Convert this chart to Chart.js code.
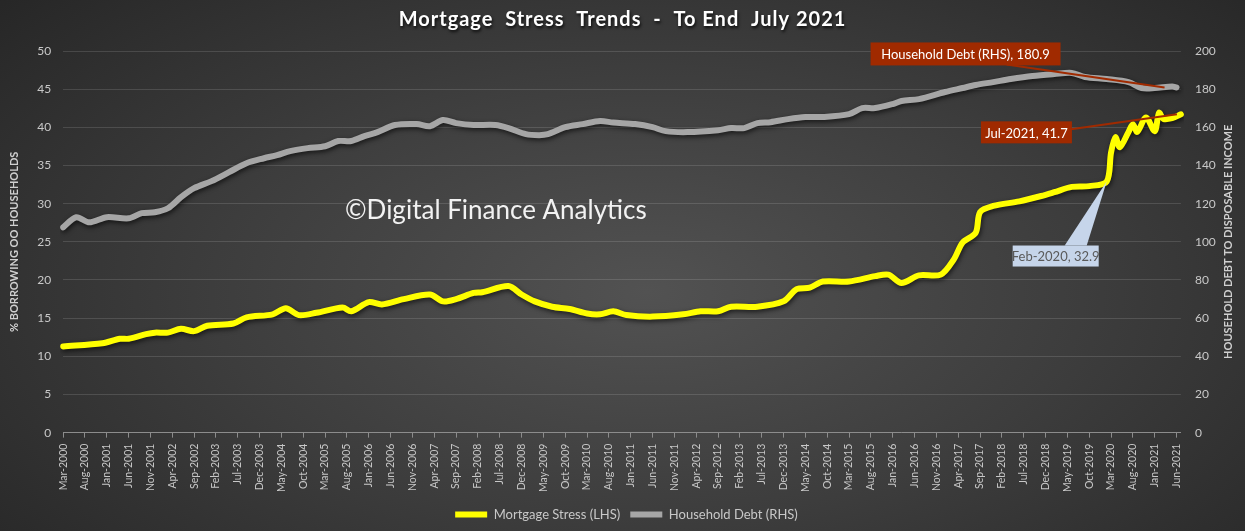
<!DOCTYPE html>
<html>
<head>
<meta charset="utf-8">
<script src="https://cdn.jsdelivr.net/npm/chart.js@4.4.0/dist/chart.umd.min.js"></script>
<style>
html, body { margin: 0; padding: 0; }
body {
    width: 1245px; height: 531px; overflow: hidden;
    background: radial-gradient(ellipse 70% 85% at 52% 55%, #525252 0%, #3d3d3d 50%, #262626 100%);
}
#wrap { position: relative; width: 1245px; height: 531px; }
</style>
</head>
<body>
<div id="wrap"><canvas id="stressChart"></canvas></div>
<script>
var monthNames = ['Jan', 'Feb', 'Mar', 'Apr', 'May', 'Jun', 'Jul', 'Aug', 'Sep', 'Oct', 'Nov', 'Dec'];
var months = [];
for (var yr = 2000; yr <= 2021; yr++) {
    for (var mo = 0; mo < 12; mo++) {
        if ((yr === 2000 && mo < 2) || (yr === 2021 && mo > 6)) continue;
        months.push(monthNames[mo] + '-' + yr);
    }
}

// Mortgage stress, % of owner occupied borrowing households (LHS)
var stressMonths = ['Mar-2000', 'Dec-2000', 'Apr-2001', 'Jun-2001', 'Oct-2001', 'Dec-2001', 'Mar-2002', 'Jun-2002',
    'Sep-2002', 'Dec-2002', 'Jun-2003', 'Sep-2003', 'Mar-2004', 'Jun-2004', 'Sep-2004', 'Jan-2005', 'Jul-2005',
    'Sep-2005', 'Jan-2006', 'Apr-2006', 'Sep-2006', 'Mar-2007', 'Jun-2007', 'Sep-2007', 'Jan-2008', 'Mar-2008',
    'Sep-2008', 'Dec-2008', 'Mar-2009', 'Jul-2009', 'Nov-2009', 'Mar-2010', 'Jun-2010', 'Sep-2010', 'Dec-2010',
    'Jun-2011', 'Jan-2012', 'May-2012', 'Sep-2012', 'Dec-2012', 'Jun-2013', 'Dec-2013', 'Mar-2014', 'Jun-2014',
    'Sep-2014', 'Mar-2015', 'Sep-2015', 'Dec-2015', 'Mar-2016', 'Jul-2016', 'Dec-2016', 'Mar-2017', 'May-2017',
    'Aug-2017', 'Sep-2017', 'Dec-2017', 'Jun-2018', 'Nov-2018', 'Feb-2019', 'Jun-2019', 'Oct-2019', 'Feb-2020',
    'Mar-2020', 'Apr-2020', 'May-2020', 'Jul-2020', 'Aug-2020', 'Sep-2020', 'Nov-2020', 'Jan-2021', 'Feb-2021',
    'Mar-2021', 'May-2021', 'Jul-2021'];
var stressValues = [11.3, 11.7, 12.3, 12.3, 12.9, 13.1, 13.1, 13.6,
    13.3, 14.0, 14.3, 15.1, 15.5, 16.3, 15.4, 15.7, 16.4,
    15.9, 17.1, 16.8, 17.5, 18.1, 17.2, 17.5, 18.3, 18.4,
    19.2, 18.1, 17.2, 16.5, 16.2, 15.6, 15.5, 15.9, 15.4,
    15.2, 15.5, 15.9, 15.9, 16.5, 16.5, 17.2, 18.8, 19.0,
    19.8, 19.8, 20.5, 20.7, 19.6, 20.6, 20.7, 22.7, 24.9,
    26.2, 28.9, 29.7, 30.3, 31.0, 31.5, 32.2, 32.3, 32.9,
    36.7, 38.7, 37.4, 39.4, 40.4, 39.4, 41.3, 39.5, 41.9,
    41.1, 41.2, 41.7];

// Household debt to disposable income (RHS)
var debtMonths = ['Mar-2000', 'Jun-2000', 'Sep-2000', 'Jan-2001', 'Jun-2001', 'Sep-2001', 'Dec-2001', 'Mar-2002',
    'Jun-2002', 'Sep-2002', 'Jan-2003', 'May-2003', 'Sep-2003', 'Jan-2004', 'Apr-2004', 'Jul-2004', 'Nov-2004',
    'Mar-2005', 'Jun-2005', 'Sep-2005', 'Dec-2005', 'Mar-2006', 'Jul-2006', 'Dec-2006', 'Mar-2007', 'Jun-2007',
    'Sep-2007', 'Jan-2008', 'Jun-2008', 'Sep-2008', 'Jan-2009', 'Apr-2009', 'Jun-2009', 'Oct-2009', 'Feb-2010',
    'Jun-2010', 'Sep-2010', 'Feb-2011', 'Jun-2011', 'Sep-2011', 'Feb-2012', 'Sep-2012', 'Dec-2012', 'Mar-2013',
    'Jun-2013', 'Sep-2013', 'Jan-2014', 'May-2014', 'Sep-2014', 'Mar-2015', 'Jun-2015', 'Sep-2015', 'Jan-2016',
    'Mar-2016', 'Jul-2016', 'Jan-2017', 'May-2017', 'Aug-2017', 'Dec-2017', 'Apr-2018', 'Sep-2018', 'Feb-2019',
    'Jun-2019', 'Sep-2019', 'Feb-2020', 'Jul-2020', 'Oct-2020', 'Jan-2021', 'May-2021', 'Jun-2021'];
var debtValues = [107.6, 112.9, 110.2, 112.9, 112.3, 115.0, 115.5, 117.6,
    123.4, 128.1, 131.8, 136.5, 141.2, 143.8, 145.4, 147.5, 149.1,
    150.1, 152.8, 152.8, 155.4, 157.5, 161.2, 161.7, 160.6, 163.8,
    162.2, 161.2, 161.2, 159.6, 156.4, 155.9, 156.4, 160.1, 161.7,
    163.3, 162.5, 161.7, 160.1, 158.0, 157.5, 158.5, 159.6, 159.6,
    162.2, 162.7, 164.3, 165.4, 165.4, 166.9, 170.1, 170.1, 172.2,
    173.8, 174.8, 178.5, 180.6, 182.2, 183.7, 185.3, 186.9, 187.9,
    188.5, 186.4, 185.3, 183.7, 180.6, 180.6, 181.4, 180.9];

function pairs(ms, vs) {
    return ms.map(function(m, i) { return { x: m, y: vs[i] }; });
}

var textColor = '#c8c8c8';
var fontFace = 'Lato, "Open Sans", sans-serif';

var shadowPlugin = {
    id: 'lineShadow',
    beforeDatasetDraw: function(chart) {
        var ctx = chart.ctx;
        ctx.save();
        ctx.shadowColor = 'rgba(0,0,0,0.65)';
        ctx.shadowBlur = 5;
        ctx.shadowOffsetX = 1;
        ctx.shadowOffsetY = 2;
    },
    afterDatasetDraw: function(chart) {
        chart.ctx.restore();
    }
};

function drawBox(ctx, x, y, w, h, fill, text, color) {
    ctx.fillStyle = fill;
    ctx.fillRect(x, y, w, h);
    ctx.fillStyle = color;
    ctx.font = '13px ' + fontFace;
    ctx.textAlign = 'center';
    ctx.textBaseline = 'middle';
    ctx.fillText(text, x + w / 2, y + h / 2 + 1);
}

var decorPlugin = {
    id: 'decor',
    afterDraw: function(chart) {
        var ctx = chart.ctx;
        var xs = chart.scales.x, yl = chart.scales.y, yr = chart.scales.y1;
        var area = chart.chartArea;
        ctx.save();

        // title
        ctx.font = 'bold 20px ' + fontFace;
        ctx.letterSpacing = '1px';
        ctx.textAlign = 'center';
        ctx.textBaseline = 'middle';
        ctx.shadowColor = 'rgba(0,0,0,0.8)';
        ctx.shadowBlur = 3;
        ctx.shadowOffsetX = 1;
        ctx.shadowOffsetY = 2;
        ctx.fillStyle = '#ffffff';
        ctx.fillText('Mortgage  Stress  Trends  -  To End  July 2021', chart.width / 2, 20);
        ctx.shadowColor = 'transparent';
        ctx.letterSpacing = '0px';

        // watermark
        ctx.font = '26px ' + fontFace;
        ctx.textAlign = 'left';
        ctx.fillStyle = '#f2f2f2';
        ctx.fillText('\u00A9Digital Finance Analytics', 345, 211);

        // right axis title, reading bottom to top
        ctx.save();
        ctx.translate(yr.right - 17, (area.top + area.bottom) / 2);
        ctx.rotate(-Math.PI / 2);
        ctx.font = 'bold 11px ' + fontFace;
        ctx.fillStyle = '#d0d0d0';
        ctx.textAlign = 'center';
        ctx.fillText('HOUSEHOLD DEBT TO DISPOSABLE INCOME', 0, 0);
        ctx.restore();

        // callouts
        var debtEnd = { x: xs.getPixelForValue(months.indexOf('Jun-2021')), y: yr.getPixelForValue(180.9) };
        var stressEnd = { x: xs.getPixelForValue(months.indexOf('Jul-2021')), y: yl.getPixelForValue(41.7) };
        var stressFeb = { x: xs.getPixelForValue(months.indexOf('Feb-2020')), y: yl.getPixelForValue(32.9) };
        var red = '#a02a00';

        ctx.strokeStyle = red;
        ctx.lineWidth = 2;
        ctx.beginPath();
        ctx.moveTo(debtEnd.x - 170, debtEnd.y - 23);
        ctx.lineTo(debtEnd.x - 12, debtEnd.y);
        ctx.stroke();
        drawBox(ctx, debtEnd.x - 306, debtEnd.y - 45, 190, 23, red, 'Household Debt (RHS), 180.9', '#ffffff');

        ctx.beginPath();
        ctx.moveTo(stressEnd.x - 110, stressEnd.y + 15);
        ctx.lineTo(stressEnd.x - 4, stressEnd.y);
        ctx.stroke();
        drawBox(ctx, stressEnd.x - 200, stressEnd.y + 7, 91, 22, red, 'Jul-2021, 41.7', '#ffffff');

        ctx.fillStyle = '#c6d5ea';
        ctx.beginPath();
        ctx.moveTo(stressFeb.x - 42, stressFeb.y + 64);
        ctx.lineTo(stressFeb.x, stressFeb.y);
        ctx.lineTo(stressFeb.x - 20, stressFeb.y + 64);
        ctx.closePath();
        ctx.fill();
        drawBox(ctx, stressFeb.x - 94, stressFeb.y + 64, 86, 21, '#c6d5ea', 'Feb-2020, 32.9', '#5a5a5a');

        ctx.restore();
    }
};

new Chart(document.getElementById('stressChart'), {
    type: 'line',
    data: {
        labels: months,
        datasets: [{
            label: 'Mortgage Stress (LHS)',
            data: pairs(stressMonths, stressValues),
            yAxisID: 'y',
            borderColor: '#ffff00',
            backgroundColor: '#ffff00',
            borderWidth: 6,
            tension: 0.3,
            pointRadius: 0,
            pointStyle: 'line',
            borderCapStyle: 'round',
            borderJoinStyle: 'round'
        }, {
            label: 'Household Debt (RHS)',
            data: pairs(debtMonths, debtValues),
            yAxisID: 'y1',
            borderColor: '#a6a6a6',
            backgroundColor: '#a6a6a6',
            borderWidth: 6,
            tension: 0.3,
            pointRadius: 0,
            pointStyle: 'line',
            borderCapStyle: 'round',
            borderJoinStyle: 'round'
        }]
    },
    options: {
        responsive: true,
        maintainAspectRatio: false,
        animation: false,
        layout: { padding: { top: 51, left: 8, right: 0, bottom: 0 } },
        plugins: {
            legend: {
                position: 'bottom',
                labels: {
                    color: textColor,
                    font: { family: fontFace, size: 13 },
                    usePointStyle: true,
                    pointStyleWidth: 32,
                    padding: 10
                }
            },
            tooltip: { enabled: false }
        },
        scales: {
            x: {
                offset: false,
                afterBuildTicks: function(scale) {
                    scale.ticks = scale.ticks.filter(function(t) { return t.value % 5 === 0; });
                },
                ticks: {
                    autoSkip: false,
                    maxRotation: 90,
                    minRotation: 90,
                    color: textColor,
                    font: { family: fontFace, size: 10.5 },
                    padding: 6
                },
                grid: { display: true, drawOnChartArea: false, drawTicks: true, tickLength: 5, color: '#8c8c8c' },
                border: { display: true, color: '#8c8c8c' }
            },
            y: {
                position: 'left',
                min: 0, max: 50,
                ticks: { stepSize: 5, color: textColor, font: { family: fontFace, size: 12 }, padding: 12 },
                grid: { color: 'rgba(255,255,255,0.13)', drawTicks: false },
                border: { display: false },
                title: {
                    display: true,
                    text: '% BORROWING OO HOUSEHOLDS',
                    color: '#d0d0d0',
                    font: { family: fontFace, size: 11, weight: 'bold' },
                    padding: { top: 0, bottom: 4 }
                }
            },
            y1: {
                position: 'right',
                min: 0, max: 200,
                ticks: { stepSize: 20, color: textColor, font: { family: fontFace, size: 12 }, padding: 14 },
                grid: { drawOnChartArea: false, drawTicks: false },
                border: { display: false },
                title: {
                    display: true,
                    text: 'HOUSEHOLD DEBT TO DISPOSABLE INCOME',
                    color: 'rgba(0,0,0,0)',
                    font: { family: fontFace, size: 11, weight: 'bold' },
                    padding: { top: 2, bottom: 0 }
                }
            }
        }
    },
    plugins: [shadowPlugin, decorPlugin]
});
</script>
</body>
</html>
